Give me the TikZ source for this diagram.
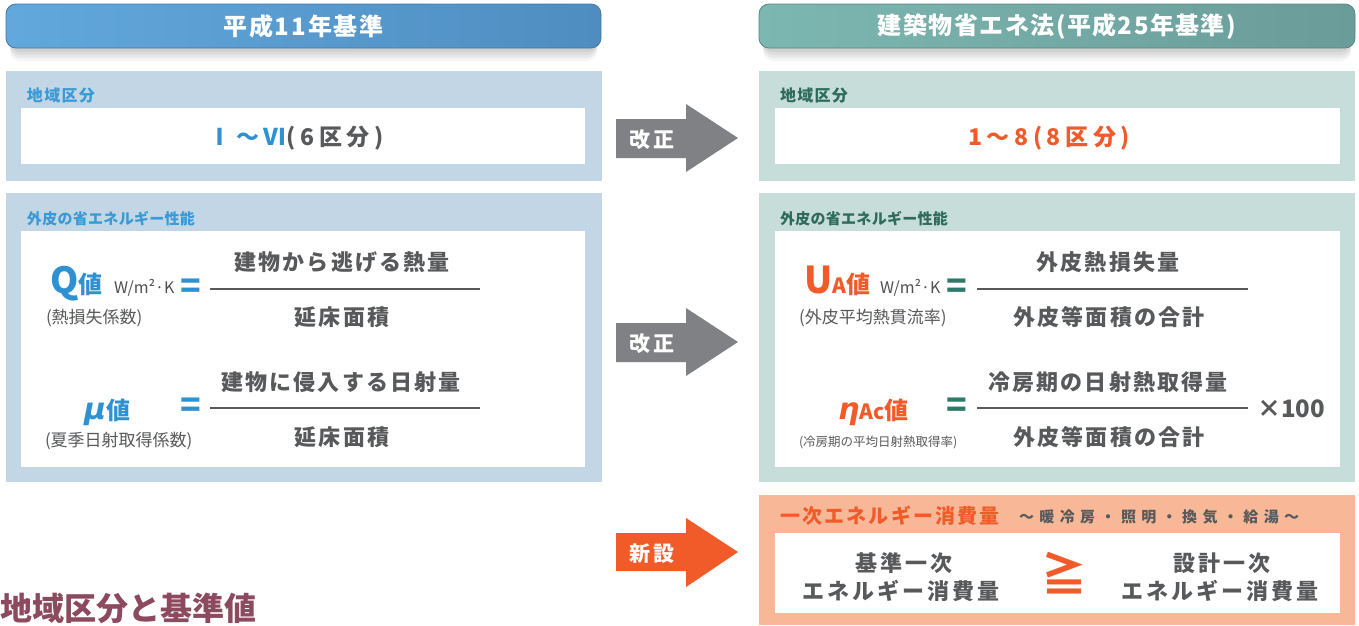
\documentclass[tikz,border=0pt]{standalone}
\usepackage{fontspec}
\setmainfont{Noto Sans CJK JP}
\newfontfamily\jp{Noto Sans CJK JP}
\newfontfamily\grk{DejaVu Sans}
\newcommand\jpsz[1]{\fontsize{#1}{#1}\selectfont}
\newcommand\lsp[1]{\addfontfeature{LetterSpace=#1}}
\definecolor{hbl1}{HTML}{62A8DC}
\definecolor{hbl2}{HTML}{4F8DC0}
\definecolor{hgr1}{HTML}{7DB7B1}
\definecolor{hgr2}{HTML}{6A9C99}
\definecolor{lpan}{HTML}{C3D6E5}
\definecolor{rpan}{HTML}{C6DDD9}
\definecolor{opan}{HTML}{F8B898}
\definecolor{blu}{HTML}{2E92D2}
\definecolor{lblu}{HTML}{3A9AD6}
\definecolor{dgrn}{HTML}{2F6B5C}
\definecolor{teal}{HTML}{2E7A68}
\definecolor{org}{HTML}{F15A29}
\definecolor{txg}{HTML}{58595B}
\definecolor{arg}{HTML}{808184}
\definecolor{mar}{HTML}{8C4A5E}
\begin{document}
\begin{tikzpicture}[x=1pt,y=-1pt,
  every node/.style={inner sep=0pt, outer sep=0pt},
  hdrbox/.style={rounded corners=10pt, draw=#1, line width=0.8pt, minimum height=44pt, text=white,
     font=\jp\bfseries\jpsz{24}},
  panel/.style={fill=#1, minimum width=596pt},
  wbox/.style={fill=white, minimum width=565pt},
  lbl/.style={anchor=base west, font=\jp\bfseries\jpsz{16}\lsp{8}},
  num/.style={anchor=base, text=txg, font=\jp\bfseries\jpsz{22}\lsp{10}},
  sub/.style={anchor=base west, text=txg, font=\jp\jpsz{17}},
  unit/.style={anchor=base west, text=txg!90!black, font=\jp\jpsz{16}},
  eqs/.style={anchor=center, font=\jp\bfseries\jpsz{34}},
  frac/.style={draw=txg, line width=1.3pt},
  arr/.style={anchor=base, text=white, font=\jp\bfseries\jpsz{21}\lsp{15}},
  bnum/.style={anchor=base, text=txg, font=\jp\bfseries\jpsz{22}\lsp{14}},
  zone/.style={anchor=base, font=\jp\bfseries\jpsz{23}\lsp{20}}
]
\useasboundingbox (0,0) rectangle (1359,625);

% header shadows
\foreach \d/\o in {4/0.05,7/0.05,10/0.05,13/0.04}{
  \fill[black,opacity=\o,rounded corners=10pt] (10,8+\d) rectangle (597,48+\d);
  \fill[black,opacity=\o,rounded corners=10pt] (763,8+\d) rectangle (1351,48+\d);
}
% headers
\node[hdrbox=hbl2!85!black, left color=hbl1, right color=hbl2, minimum width=595pt] (h1) at (303.5,26) {\lsp{8}平成11年基準};
\node[hdrbox=hgr2!85!black, left color=hgr1, right color=hgr2, minimum width=596pt] (h2) at (1057,26) {\lsp{6}建築物省エネ法(平成25年基準)};

% left panels
\node[panel=lpan, minimum height=110pt] (lp1) at (303.5,126) {};
\node[wbox, minimum width=564pt, minimum height=56pt] (lw1) at (303,136) {};
\node[panel=lpan, minimum height=289pt] (lp2) at (303.5,337.5) {};
\node[wbox, minimum width=564pt, minimum height=236pt] (lw2) at (303,349) {};
% right panels
\node[panel=rpan, minimum height=110pt] (rp1) at (1057,126) {};
\node[wbox, minimum height=56pt] (rw1) at (1057.5,136) {};
\node[panel=rpan, minimum height=289pt] (rp2) at (1057,337.5) {};
\node[wbox, minimum height=236pt] (rw2) at (1057.5,349) {};
% bottom panel
\node[panel=opan, minimum height=130pt] (bp) at (1057,560) {};
\node[wbox, minimum height=80pt] (bw) at (1057.5,573) {};

% labels
\node[lbl, text=lblu] (l1) at (27,101) {地域区分};
\node[lbl, text=lblu, font=\jp\bfseries\jpsz{15}\lsp{2}] (l2) at (27,224) {外皮の省エネルギー性能};
\node[lbl, text=dgrn] (r1) at (780,101) {地域区分};
\node[lbl, text=dgrn, font=\jp\bfseries\jpsz{15}\lsp{2}] (r2) at (780,224) {外皮の省エネルギー性能};

% region values
\node[zone, text=txg] (lv) at (296,145) {\textcolor{blu}{Ⅰ〜Ⅵ}(6区分)};
\node[zone, text=org] (rv) at (1049,145) {1〜8(8区分)};

% ---- Q value
\node[anchor=base west, text=blu, font=\jp\bfseries] (q) at (50,293) {{\jpsz{36}Q}{\jpsz{24}値}};
\node[unit] (qu) at (114,293) {W/m²·K};
\node[sub] (qs) at (46,323) {(熱損失係数)};
\node[eqs, text=blu] (qe) at (191,289) {=};
\coordinate (q1) at (210,289);
\coordinate (q2) at (480,289);
\draw[frac] (q1) -- (q2);
\node[num] (qn) at (342,270.5) {建物から逃げる熱量};
\node[num] (qd) at (342,325) {延床面積};

% ---- mu value
\node[anchor=base west, text=blu, font=\bfseries] (m) at (84,419) {{\grk\itshape\jpsz{30}μ}{\jp\jpsz{24}値}};
\node[sub] (ms) at (45,446) {(夏季日射取得係数)};
\node[eqs, text=blu] (me) at (191,408) {=};
\coordinate (m1) at (210,408);
\coordinate (m2) at (480,408);
\draw[frac] (m1) -- (m2);
\node[num] (mn) at (341,390) {建物に侵入する日射量};
\node[num] (md) at (342,445) {延床面積};

% ---- UA value
\node[anchor=base west, text=org, font=\jp\bfseries] (u) at (804,293) {{\jpsz{37}U}{\jpsz{21}A}{\jpsz{24}値}};
\node[unit] (uu) at (880,293) {W/m²·K};
\node[sub] (us) at (799,323) {(外皮平均熱貫流率)};
\node[eqs, text=teal] (ue) at (957,289) {=};
\coordinate (u1) at (977,289);
\coordinate (u2) at (1248,289);
\draw[frac] (u1) -- (u2);
\node[num] (un) at (1108,270.5) {外皮熱損失量};
\node[num] (ud) at (1109,325) {外皮等面積の合計};

% ---- eta value
\node[anchor=base west, text=org, font=\bfseries] (e) at (838,419) {{\grk\itshape\jpsz{30}η}{\jp\jpsz{21}Ac}{\jp\jpsz{24}値}};
\node[sub, font=\jp\jpsz{12.5}] (es) at (799,446) {(冷房期の平均日射熱取得率)};
\node[eqs, text=teal] (ee) at (957,408) {=};
\coordinate (e1) at (977,408);
\coordinate (e2) at (1248,408);
\draw[frac] (e1) -- (e2);
\node[num] (en) at (1108,390) {冷房期の日射熱取得量};
\node[num] (ed) at (1109,445) {外皮等面積の合計};
\node[anchor=base west, text=txg, font=\jp\bfseries\jpsz{24}] (x100) at (1257,417) {×100};

% ---- arrows
\fill[arg] (616,119) -- (686,119) -- (686,104) -- (738,138) -- (686,172) -- (686,158) -- (616,158) -- cycle;
\node[arr] (a1) at (652,147) {改正};
\fill[arg] (616,323) -- (686,323) -- (686,308) -- (738,342) -- (686,376) -- (686,362) -- (616,362) -- cycle;
\node[arr] (a2) at (652,351) {改正};
\fill[org] (616,533) -- (686,533) -- (686,518) -- (738,552) -- (686,587) -- (686,571) -- (616,571) -- cycle;
\node[arr] (a3) at (652,561) {新設};

% ---- primary energy
\node[anchor=base west, text=org, font=\jp\bfseries\jpsz{20}\lsp{11}] (pl) at (780,523) {一次エネルギー消費量};
\node[anchor=base west, text=txg, font=\jp\bfseries\jpsz{15}\lsp{36}] (ps) at (1019,522) {〜暖冷房・照明・換気・給湯〜};
\node[bnum] (b1) at (904,571) {基準一次};
\node[bnum] (b2) at (901,599) {エネルギー消費量};
\node[anchor=center, text=org, font=\jp\bfseries\jpsz{46}] (ge) at (1064,573) {≧};
\node[bnum] (c1) at (1222,571) {設計一次};
\node[bnum] (c2) at (1220,599) {エネルギー消費量};

% ---- title
\node[anchor=base west, text=mar, font=\jp\bfseries\jpsz{32}] (t) at (0,620) {地域区分と基準値};
\end{tikzpicture}
\end{document}
